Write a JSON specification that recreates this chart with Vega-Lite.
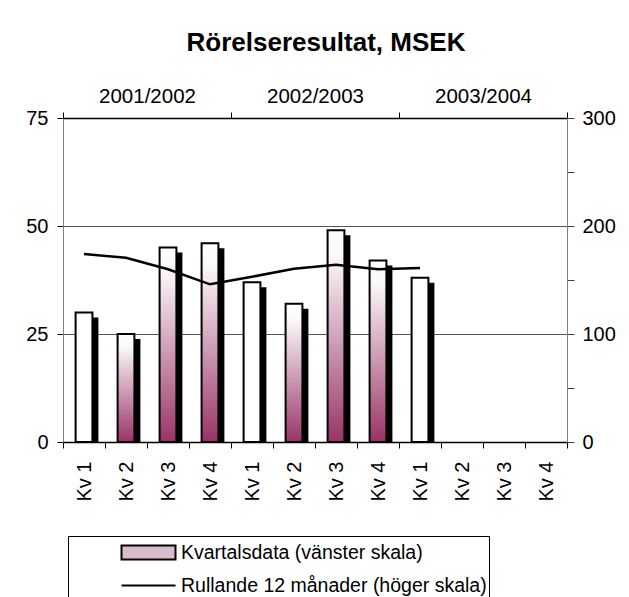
{
  "$schema": "https://vega.github.io/schema/vega-lite/v6.json",
  "width": 504,
  "height": 324,
  "autosize": {"type": "none"},
  "padding": {"left": 63, "top": 118, "right": 62, "bottom": 155},
  "background": "white",
  "config": {
    "font": "Liberation Sans",
    "view": {"stroke": null},
    "axis": {"labelFont": "Liberation Sans", "labelFontSize": 20, "labelColor": "black", "title": null}
  },
  "title": {
    "text": "Rörelseresultat, MSEK",
    "font": "Liberation Sans",
    "fontSize": 26,
    "fontWeight": "bold",
    "color": "black",
    "anchor": "middle",
    "dx": 11,
    "offset": 30
  },
  "datasets": {
    "q": [
      {"n": 1, "kv": "Kv 1", "year": "2001/2002", "val": 30, "roll": 174},
      {"n": 2, "kv": "Kv 2", "year": "2001/2002", "val": 25, "roll": 170.5},
      {"n": 3, "kv": "Kv 3", "year": "2001/2002", "val": 45, "roll": 160},
      {"n": 4, "kv": "Kv 4", "year": "2001/2002", "val": 46, "roll": 146},
      {"n": 5, "kv": "Kv 1", "year": "2002/2003", "val": 37, "roll": 153},
      {"n": 6, "kv": "Kv 2", "year": "2002/2003", "val": 32, "roll": 160.5},
      {"n": 7, "kv": "Kv 3", "year": "2002/2003", "val": 49, "roll": 164},
      {"n": 8, "kv": "Kv 4", "year": "2002/2003", "val": 42, "roll": 160},
      {"n": 9, "kv": "Kv 1", "year": "2003/2004", "val": 38, "roll": 161},
      {"n": 10, "kv": "Kv 2", "year": "2003/2004", "val": null, "roll": null},
      {"n": 11, "kv": "Kv 3", "year": "2003/2004", "val": null, "roll": null},
      {"n": 12, "kv": "Kv 4", "year": "2003/2004", "val": null, "roll": null}
    ],
    "years": [
      {"year": "2001/2002"},
      {"year": "2002/2003"},
      {"year": "2003/2004"}
    ],
    "legend": [
      {"s": "Kvartalsdata (vänster skala)"},
      {"s": "Rullande 12 månader (höger skala)"}
    ]
  },
  "layer": [
    {
      "data": {"name": "q"},
      "mark": {"type": "bar", "width": {"band": 0.4}, "color": "black", "xOffset": 6, "yOffset": 5, "y2Offset": 0},
      "encoding": {
        "x": {"field": "n", "type": "ordinal", "scale": {"type": "band", "domain": [1,2,3,4,5,6,7,8,9,10,11,12], "paddingInner": 0, "paddingOuter": 0}, "axis": null},
        "y": {"field": "val", "type": "quantitative", "stack": null, "scale": {"domain": [0, 75], "nice": false}, "axis": null}
      }
    },
    {
      "data": {"name": "q"},
      "mark": {"type": "bar", "width": {"band": 0.4}, "stroke": "black", "strokeWidth": 2},
      "encoding": {
        "x": {
          "field": "n", "type": "ordinal",
          "scale": {"type": "band", "domain": [1,2,3,4,5,6,7,8,9,10,11,12], "paddingInner": 0, "paddingOuter": 0},
          "axis": {
            "orient": "bottom",
            "labelExpr": "datum.value > 0 ? 'Kv ' + ((datum.value - 1) % 4 + 1) : ''",
            "labelAngle": -90,
            "labelPadding": 13,
            "tickBand": "extent",
            "tickSize": 6,
            "tickColor": "black",
            "domainColor": "black",
            "domainWidth": 1.5,
            "grid": false
          }
        },
        "y": {
          "field": "val", "type": "quantitative", "stack": null,
          "scale": {"domain": [0, 75], "nice": false},
          "axis": {
            "orient": "left",
            "values": [0, 25, 50, 75],
            "grid": true,
            "gridColor": "#555555",
            "gridWidth": 1,
            "domainColor": "#808080",
            "tickColor": "black",
            "tickSize": 6,
            "labelPadding": 9
          }
        },
        "fill": {
          "condition": {"test": "datum.kv === 'Kv 1'", "value": "white"},
          "value": {"gradient": "linear", "x1": 0, "y1": 0, "x2": 0, "y2": 1,
            "stops": [
              {"offset": 0, "color": "#ffffff"},
              {"offset": 0.12, "color": "#fbf8fa"},
              {"offset": 1, "color": "#993366"}
            ]}
        }
      }
    },
    {
      "data": {"name": "q"},
      "mark": {"type": "line", "color": "black", "strokeWidth": 2.5},
      "encoding": {
        "x": {"field": "n", "type": "ordinal", "scale": {"type": "band", "domain": [1,2,3,4,5,6,7,8,9,10,11,12], "paddingInner": 0, "paddingOuter": 0}, "axis": null},
        "y": {
          "field": "roll", "type": "quantitative",
          "scale": {"domain": [0, 300], "nice": false},
          "axis": {
            "orient": "right",
            "values": [0, 50, 100, 150, 200, 250, 300],
            "labelExpr": "datum.value % 100 === 0 ? datum.label : ''",
            "grid": false,
            "domainColor": "#808080",
            "tickColor": "#404040",
            "tickSize": 7,
            "labelPadding": 8
          }
        }
      }
    },
    {
      "data": {"name": "years"},
      "mark": {"type": "rule", "opacity": 0},
      "encoding": {
        "x": {
          "field": "year", "type": "ordinal",
          "scale": {"type": "band", "paddingInner": 0, "paddingOuter": 0},
          "axis": {
            "orient": "top",
            "tickBand": "extent",
            "tickSize": 6,
            "tickColor": "black",
            "domainColor": "black",
            "domainWidth": 1.5,
            "labelAngle": 0,
            "labelPadding": 6,
            "labelFontSize": 20.5,
            "grid": false
          }
        }
      }
    },
    {
      "data": {"name": "legend"},
      "mark": {"type": "point", "size": 0, "filled": false, "fill": "#d9bccb", "stroke": "black", "strokeWidth": 2},
      "encoding": {
        "shape": {
          "field": "s", "type": "nominal",
          "scale": {
            "domain": ["Kvartalsdata (vänster skala)", "Rullande 12 månader (höger skala)"],
            "range": ["M-2,-0.52H2V0.52H-2Z", "M-2,0H2"]
          },
          "legend": {
            "orient": "none",
            "legendX": 5,
            "legendY": 418,
            "title": null,
            "symbolSize": 729,
            "symbolStrokeWidth": 2,
            "symbolOpacity": 1,
            "labelFont": "Liberation Sans",
            "labelFontSize": 19.5,
            "labelColor": "black",
            "labelLimit": 500,
            "labelOffset": 18,
            "symbolOffset": 64,
            "rowPadding": 7,
            "padding": 2,
            "strokeColor": "black",
            "fillColor": "white"
          }
        }
      }
    }
  ],
  "resolve": {
    "scale": {"x": "independent", "y": "independent"},
    "axis": {"x": "independent", "y": "independent"}
  }
}
